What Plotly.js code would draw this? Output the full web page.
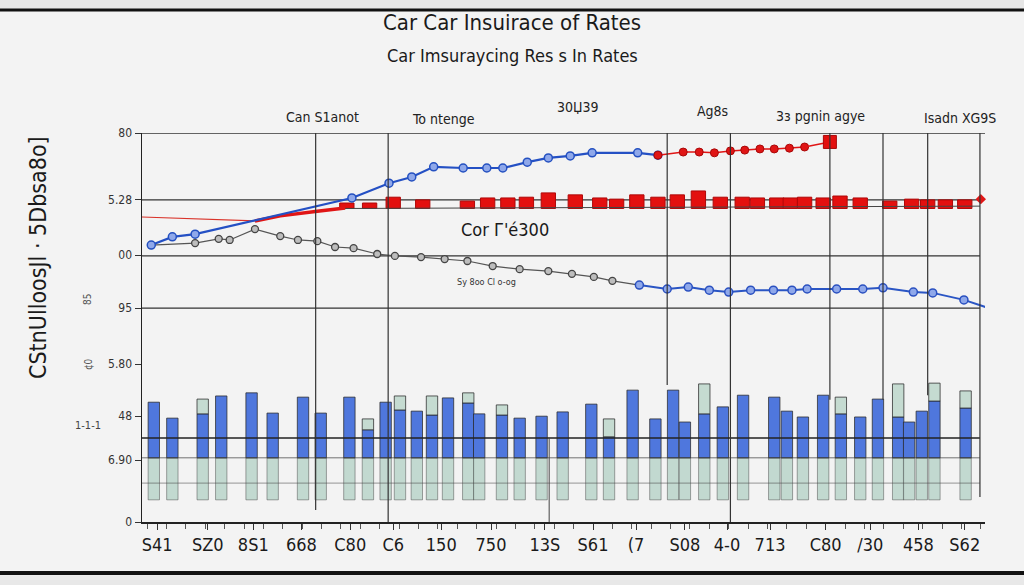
<!DOCTYPE html>
<html>
<head>
<meta charset="utf-8">
<script src="https://cdn.plot.ly/plotly-3.0.1.min.js"></script>
<style>
  html, body { margin: 0; padding: 0; background: #f3f3f3; }
  #chart { width: 1024px; height: 585px; }
</style>
</head>
<body>
<div id="chart"></div>
<script>
// ---------- data ----------
const xTickVals = [1.8, 7.8, 13.2, 18.9, 24.7, 29.8, 35.5, 41.4, 47.8, 53.5, 58.6, 64.4, 69.4, 74.5, 81.1, 86.4, 92.1, 97.6];
const xTickText = ["S41", "SZ0", "8S1", "668", "C80", "C6", "150", "750", "13S", "S61", "(7", "S08", "4-0", "713", "C80", "/30", "458", "S62"];
const yTickVals = [100, 82.8, 68.6, 55.0, 40.6, 27.2, 15.9, 0];
const yTickText = ["80", "5.28", "00", "95", "5.80", "48", "6.90", "0"];

// composite bars
const barX = [1.4, 3.6, 7.2, 9.4, 13.0, 15.5, 19.1, 21.2, 24.6, 26.8, 28.9, 30.6, 32.6, 34.4, 36.3, 38.7, 40.0, 42.7, 44.8, 47.4, 49.9,
              53.3, 55.4, 58.2, 60.9, 63.0, 64.4, 66.7, 68.9, 71.3, 75.0, 76.5, 78.4, 80.8, 82.9, 85.2, 87.3, 89.7, 91.0, 92.5, 94.0, 97.7];
const barBlueTop = [30.8, 26.7, 27.8, 32.4, 33.2, 28.0, 32.1, 28.0, 32.1, 23.7, 30.8, 28.8, 28.5, 27.5, 31.9, 30.6, 27.8, 27.5, 26.7, 27.2, 28.3,
                    30.3, 21.9, 33.9, 26.5, 33.9, 25.7, 27.8, 29.6, 32.6, 32.1, 28.5, 27.0, 32.6, 27.8, 27.0, 31.6, 27.0, 25.7, 28.5, 31.1, 29.3];
const barCapTop = [null, null, 31.6, null, null, null, null, null, null, 26.5, null, 32.4, null, 32.4, null, 33.2, null, 30.1, null, null, null,
                   null, 26.5, null, null, null, null, 35.5, null, null, null, null, null, null, 32.1, null, null, 35.5, null, null, 35.7, 33.7];
const barFloor = 5.7;
const barSplit = 16.5;

// upper blue line then red continuation
const upBlueX = [1.1, 3.6, 6.3, 24.9, 29.3, 32.0, 34.6, 38.1, 40.9, 42.8, 45.7, 48.2, 50.8, 53.4, 58.8, 61.2];
const upBlueY = [71.2, 73.3, 74.0, 83.3, 87.1, 88.7, 91.3, 91.0, 91.0, 91.0, 92.5, 93.6, 94.1, 94.9, 94.9, 94.3];
const upRedX = [61.2, 64.2, 66.1, 67.9, 69.8, 71.5, 73.3, 75.0, 76.8, 78.6];
const upRedY = [94.3, 95.1, 95.1, 94.9, 95.4, 95.6, 95.9, 95.9, 96.1, 96.4];
const upRedEndX = [81.6];
const upRedEndY = [97.7];

// middle red series
const midThinX = [0, 13.4];
const midThinY = [78.4, 77.4];
const midThickX = [13.4, 16.4, 20.8, 24.1];
const midThickY = [77.4, 78.7, 79.9, 80.7];
const midBaseX = [24.1, 99.4];
const midBaseY = [80.6, 81.2];
const redBarX = [24.3, 27.0, 29.8, 33.3, 38.6, 41.0, 43.4, 45.6, 48.2, 51.4, 54.3, 56.3, 58.7, 61.2, 63.5, 66.0, 68.6, 71.2, 73.0,
                 75.3, 76.9, 78.6, 80.8, 82.8, 85.2, 88.7, 91.3, 93.2, 95.3, 97.6];
const redBarTop = [82.0, 82.0, 83.5, 82.8, 82.5, 83.3, 83.3, 83.5, 84.6, 84.1, 83.3, 83.0, 84.1, 83.5, 84.1, 85.1, 83.5, 83.5, 83.3,
                   83.3, 83.3, 83.5, 83.3, 83.8, 83.3, 82.5, 83.0, 82.8, 82.8, 82.8];
const redBarBase = 80.6;
const redEndX = [99.5];
const redEndY = [83.0];

// lower gray line then blue continuation
const lowGrayX = [1.1, 6.3, 9.1, 10.4, 13.4, 16.4, 18.5, 20.8, 22.9, 25.1, 27.9, 30.0, 33.1, 35.9, 38.6, 41.6, 44.8, 48.2, 51.0, 53.6, 55.8, 59.0];
const lowGrayY = [71.2, 71.7, 72.8, 72.5, 75.3, 73.5, 72.5, 72.2, 70.7, 70.4, 68.9, 68.4, 68.1, 67.6, 67.1, 65.8, 65.0, 64.5, 63.8, 63.0, 62.0, 60.9];
const lowBlueX = [59.0, 62.3, 64.8, 67.3, 69.6, 72.2, 74.9, 77.1, 78.9, 82.4, 85.5, 87.9, 91.5, 93.8, 97.5, 100.4];
const lowBlueY = [60.9, 59.9, 60.4, 59.6, 59.1, 59.6, 59.6, 59.6, 59.9, 59.9, 59.9, 60.2, 59.1, 58.9, 57.1, 55.0];

// texts
const titleText = "Car Car Insuirace of Rates";
const subtitleText = "Car Imsuraycing Res s In Rates";
const headerText = ["Can S1anot", "To ntenge", "30Џ39", "Ag8s", "3з pgnin agye", "Isadn XG9S"];
const yTitleText = "CStnUlloosJl · 5Dbsa8o]";
const noteText = "Cor Г'é300";
const smallNoteText = "Sy 8oo Cl o-og";

// ---------- layout constants (positions / styles) ----------
const FONT = "Liberation Sans Narrow, Arial Narrow, DejaVu Sans Condensed, Arial, sans-serif";
const blueFill = "#4f77dd";
const greenFill = "rgba(178,208,196,0.75)";
const outline = "rgba(40,40,40,0.75)";
const hLines = [82.8, 68.4, 55.0];
const hLinesLow = [21.6, 16.5, 10.0];
const vLines = [20.6, 29.2, 62.3, 69.8, 81.6, 87.9, 93.2, 99.4];
const vLineBottom = [3.1, -1.5, 35.2, -1.5, 31.4, 31.4, 32.6, 6.4];
const headerPosX = [0.2147, 0.3582, 0.5172, 0.6773, 0.8043, 0.9703];
const headerPosY = [1.041, 1.036, 1.067, 1.057, 1.044, 1.039];

const traces = [];
traces.push({
  type: "bar", x: barX, base: barX.map(() => barFloor), y: barX.map(() => barSplit - barFloor),
  width: 1.35, marker: { color: greenFill, line: { color: "rgba(60,60,60,0.45)", width: 1 } },
  hoverinfo: "skip", showlegend: false
});
traces.push({
  type: "bar", x: barX, base: barX.map(() => barSplit), y: barBlueTop.map(v => v - barSplit),
  width: 1.35, marker: { color: blueFill, line: { color: outline, width: 1 } },
  hoverinfo: "skip", showlegend: false
});
const capIdx = barCapTop.map((v, i) => v === null ? -1 : i).filter(i => i >= 0);
traces.push({
  type: "bar", x: capIdx.map(i => barX[i]), base: capIdx.map(i => barBlueTop[i]),
  y: capIdx.map(i => barCapTop[i] - barBlueTop[i]),
  width: 1.35, marker: { color: "#c5dbd1", line: { color: outline, width: 1 } },
  hoverinfo: "skip", showlegend: false
});
traces.push({
  type: "bar", x: redBarX, base: redBarX.map(() => redBarBase), y: redBarTop.map(v => v - redBarBase),
  width: 1.7, marker: { color: "#e3100f", line: { color: "#b00808", width: 1 } },
  hoverinfo: "skip", showlegend: false
});

traces.push({ type: "scatter", mode: "lines", x: midThinX, y: midThinY, line: { color: "#d9332a", width: 1.2 }, showlegend: false, cliponaxis: false });
traces.push({ type: "scatter", mode: "lines", x: midBaseX, y: midBaseY, line: { color: "#444", width: 1 }, showlegend: false, cliponaxis: false });
traces.push({ type: "scatter", mode: "lines", x: midThickX, y: midThickY, line: { color: "#e01515", width: 3.5 }, showlegend: false });
traces.push({ type: "scatter", mode: "markers", x: redEndX, y: redEndY, marker: { color: "#e01515", size: 8, symbol: "diamond" }, showlegend: false, cliponaxis: false });

traces.push({
  type: "scatter", mode: "lines+markers", x: lowGrayX, y: lowGrayY,
  line: { color: "#555", width: 1.2 },
  marker: { symbol: "circle", size: 7, color: "#bdbdbd", line: { color: "#444", width: 1.3 } },
  showlegend: false
});
traces.push({
  type: "scatter", mode: "lines+markers", x: lowBlueX, y: lowBlueY,
  line: { color: "#2a55c4", width: 2 },
  marker: { symbol: "circle", size: 8, color: "#8fa8ea", line: { color: "#2a50c0", width: 1.5 } },
  showlegend: false, cliponaxis: false
});
traces.push({
  type: "scatter", mode: "lines+markers", x: upBlueX, y: upBlueY,
  line: { color: "#2450c4", width: 2.2 },
  marker: { symbol: "circle", size: 8, color: "#8fa8ea", line: { color: "#2450c0", width: 1.5 } },
  showlegend: false
});
traces.push({
  type: "scatter", mode: "lines+markers", x: upRedX, y: upRedY,
  line: { color: "#e01515", width: 1.5 },
  marker: { symbol: "circle", size: 8, color: "#e01515", line: { color: "#a80808", width: 1 } },
  showlegend: false
});
traces.push({
  type: "scatter", mode: "lines", x: [upRedX[upRedX.length - 1]].concat(upRedEndX), y: [upRedY[upRedY.length - 1]].concat(upRedEndY),
  line: { color: "#e01515", width: 1.5 }, showlegend: false
});
traces.push({
  type: "scatter", mode: "markers", x: upRedEndX, y: upRedEndY,
  marker: { symbol: "square", size: 13, color: "#e3100f", opacity: 1, line: { color: "#a80808", width: 1 } },
  showlegend: false, cliponaxis: false
});

const shapes = [];
shapes.push({ type: "line", xref: "x", yref: "y", x0: 0, x1: 101.5, y0: 100, y1: 100, line: { color: "#333", width: 1.3 } });
hLines.forEach(v => shapes.push({ type: "line", xref: "x", yref: "y", x0: 0, x1: 99.4, y0: v, y1: v, line: { color: "#333", width: 1.2 }, layer: "below" }));
shapes.push({ type: "line", xref: "x", yref: "y", x0: 0, x1: 99.4, y0: hLinesLow[0], y1: hLinesLow[0], line: { color: "#222", width: 1.4 } });
shapes.push({ type: "line", xref: "x", yref: "y", x0: 0, x1: 99.4, y0: hLinesLow[1], y1: hLinesLow[1], line: { color: "rgba(60,60,60,0.7)", width: 1 } });
shapes.push({ type: "line", xref: "x", yref: "y", x0: 0, x1: 99.4, y0: hLinesLow[2], y1: hLinesLow[2], line: { color: "rgba(70,70,70,0.55)", width: 1 } });
vLines.forEach((v, i) => shapes.push({ type: "line", xref: "x", yref: "y", x0: v, x1: v, y0: 100, y1: vLineBottom[i], line: { color: "#333", width: 1.2 } }));
shapes.push({ type: "line", xref: "x", yref: "y", x0: 48.3, x1: 48.3, y0: 21.6, y1: -1.5, line: { color: "#444", width: 1 } });
shapes.push({ type: "rect", xref: "paper", yref: "paper", x0: -0.17, x1: 1.05, y0: 1.319, y1: 1.345, fillcolor: "#e6e6e6", line: { width: 0 }, layer: "below" });
shapes.push({ type: "line", xref: "paper", yref: "paper", x0: -0.17, x1: 1.05, y0: 1.316, y1: 1.316, line: { color: "#111", width: 3 } });
shapes.push({ type: "line", xref: "paper", yref: "paper", x0: -0.17, x1: 1.05, y0: -0.131, y1: -0.131, line: { color: "#111", width: 4 } });
shapes.push({ type: "rect", xref: "paper", yref: "paper", x0: -0.17, x1: 1.05, y0: -0.137, y1: -0.17, fillcolor: "#e8e8e8", line: { width: 0 }, layer: "below" });

function ann(text, x, y, ref, size, color, angle) {
  return {
    text: text, x: x, y: y, xref: ref === "data" ? "x" : "paper", yref: ref === "data" ? "y" : "paper",
    xanchor: "center", yanchor: "middle", showarrow: false, textangle: angle || 0,
    font: { family: FONT, size: size, color: color }
  };
}
const annotations = [];
annotations.push(ann(titleText, 0.439, 1.285, "paper", 22, "#1a1a1a"));
annotations.push(ann(subtitleText, 0.439, 1.2005, "paper", 18, "#1a1a1a"));
headerText.forEach((t, i) => annotations.push(ann(t, headerPosX[i], headerPosY[i], "paper", 14, "#222")));
annotations.push(ann(noteText, 43.1, 75.1, "data", 18, "#1a1a1a"));
annotations.push(ann(smallNoteText, 40.9, 61.7, "data", 9, "#333"));
annotations.push(ann(yTitleText, -0.1234, 0.681, "paper", 23, "#1a1a1a", -90));
annotations.push(ann("85", -0.064, 0.571, "paper", 10, "#555", -90));
annotations.push(ann("¢0", -0.064, 0.406, "paper", 10, "#555", -90));
annotations.push(ann("1-1-1", -0.064, 0.249, "paper", 11, "#444"));

const layout = {
  width: 1024, height: 585,
  margin: { l: 142, r: 39, t: 133, b: 63 },
  paper_bgcolor: "#f3f3f3", plot_bgcolor: "#f3f3f3",
  barmode: "overlay", bargap: 0,
  showlegend: false,
  font: { family: FONT, color: "#222" },
  xaxis: {
    range: [0, 100], showgrid: false, zeroline: false,
    showline: true, linecolor: "#222", linewidth: 1.5,
    tickmode: "array", tickvals: xTickVals, ticktext: xTickText,
    ticks: "outside", ticklen: 6, tickcolor: "#333",
    tickfont: { family: FONT, size: 18, color: "#1a1a1a" },
    minor: { tickmode: "linear", tick0: 0.6, dtick: 2.3, ticks: "outside", ticklen: 5, tickcolor: "#555" }
  },
  yaxis: {
    range: [0, 100], showgrid: false, zeroline: false,
    showline: true, linecolor: "#222", linewidth: 1.5,
    tickmode: "array", tickvals: yTickVals, ticktext: yTickText,
    ticks: "outside", ticklen: 6, tickcolor: "#333",
    tickfont: { family: FONT, size: 12, color: "#333" }
  },
  shapes: shapes,
  annotations: annotations
};

Plotly.newPlot("chart", traces, layout, { displayModeBar: false, staticPlot: true });
</script>
</body>
</html>
